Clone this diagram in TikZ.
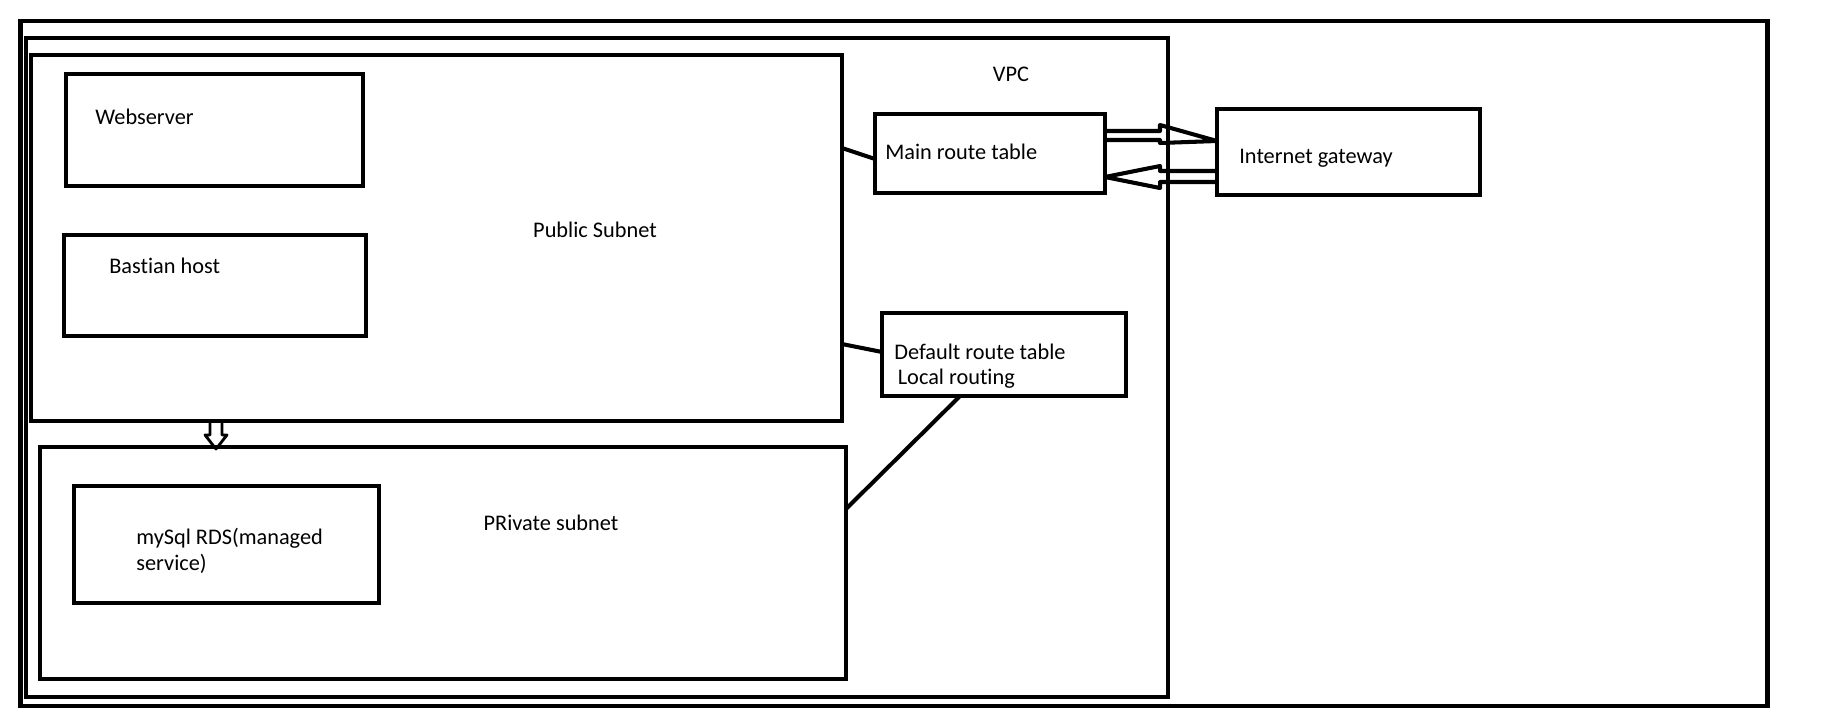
\documentclass[tikz,border=0pt]{standalone}
\usepackage{fontspec}
\setmainfont{Carlito}[Ligatures=NoCommon]
\usetikzlibrary{calc, positioning}

\tikzset{
  box/.style={draw, line width=2.7pt, inner sep=0pt, outer sep=0pt},
  wire/.style={line width=2.3pt},
  txt/.style={inner sep=0pt, font=\fontsize{12.7}{14.5}\selectfont, align=left},
}

\begin{document}
\begin{tikzpicture}[x=0.02cm, y=-0.02cm]
  \useasboundingbox (0,0) rectangle (1822,727);

  % frames
  \node[box, minimum width=34.96cm, minimum height=13.70cm] (outer) at (894,363.5) {};
  \node[box, minimum width=22.84cm, minimum height=13.18cm] (vpc) at (597,367.5) {};
  \node[box, minimum width=16.22cm, minimum height=7.32cm] (pub) at (436.5,238) {};
  \node[box, minimum width=16.12cm, minimum height=4.64cm] (priv) at (443,563) {};

  % hosts
  \node[box, minimum width=5.94cm, minimum height=2.24cm] (web) at (214.5,130) {};
  \node[box, minimum width=6.04cm, minimum height=2.02cm] (bastion) at (215,285.5) {};
  \node[box, minimum width=6.10cm, minimum height=2.34cm] (rds) at (226.5,544.5) {};

  % routing
  \node[box, minimum width=4.60cm, minimum height=1.58cm] (mrt) at (990,153.5) {};
  \node[box, minimum width=5.26cm, minimum height=1.72cm] (igw) at (1348.5,152) {};
  \node[box, minimum width=4.88cm, minimum height=1.66cm] (drt) at (1004,354.5) {};

  % labels
  \node[txt] (vpclbl) at (1011,74) {VPC};
  \node[txt] (publbl) at (595,230) {Public Subnet};
  \node[txt] (privlbl) at (551,523) {PRivate subnet};
  \node[txt, anchor=west] (weblbl) at (95,117) {Webserver};
  \node[txt, anchor=west] (bastionlbl) at (109,266) {Bastian host};
  \node[txt, anchor=west] (rdslbl) at (136,551) {mySql RDS(managed\\service)};
  \node[txt, anchor=west] (mrtlbl) at (885,152) {Main route table};
  \node[txt, anchor=west] (igwlbl) at (1239,158) {Internet gateway};
  \node[txt, anchor=west] (drtlbl) at (894,366) {Default route table\\\hspace{2pt}Local routing};

  % links
  \draw[wire] ($(pub.east)+(0,-90)$) -- ($(mrt.west)+(0,5.5)$);
  \draw[wire] ($(pub.east)+(0,106)$) -- ($(drt.west)+(0,-2.5)$);
  \draw[wire] ($(drt.south)+(-44,0)$) -- ($(priv.east)+(0,-54)$);

  % hollow arrows
  \draw[wire, line join=round] ($(mrt.east)+(0,-22.5)$) -- ++(55,0) -- ++(0,-6)
    -- ($(igw.west)+(0,-11)$) -- ($(mrt.east)+(55,-10.5)$) -- ($(mrt.east)+(55,-13.5)$)
    -- ($(mrt.east)+(0,-13.5)$);
  \draw[wire, line join=round] ($(igw.west)+(0,19)$) -- ++(-57,0) -- ++(0,-5)
    -- ($(mrt.east)+(0,23.5)$) -- ($(igw.west)+(-57,36)$) -- ($(igw.west)+(-57,30)$)
    -- ($(igw.west)+(0,30)$);
  \draw[line width=1.6pt, line join=round] ($(pub.south)+(-226.5,0)$) -- ++(0,14) -- ++(-5,0)
    -- ($(priv.north)+(-227,2)$) -- ($(pub.south)+(-209.5,14)$) -- ++(-5,0)
    -- ($(pub.south)+(-214.5,0)$);
\end{tikzpicture}
\end{document}
